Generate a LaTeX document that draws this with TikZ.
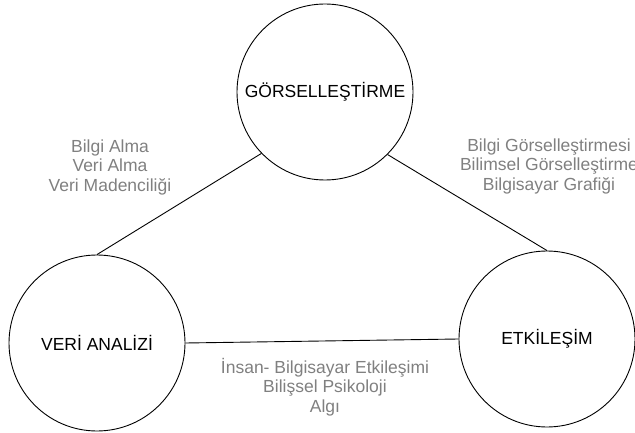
\documentclass[tikz,border=0pt]{standalone}
\usepackage{fontspec}
\setmainfont{Liberation Sans}
\definecolor{labelgray}{RGB}{128,128,128}

\begin{document}
\begin{tikzpicture}[x=1pt,y=-1pt,
  alan/.style={circle,draw,line width=0.9pt,minimum size=176pt,inner sep=0pt,font=\fontsize{17.5}{19.5}\selectfont},
  konu/.style={text=labelgray,align=center,font=\fontsize{17.5}{19.5}\selectfont}]
\useasboundingbox (0,0) rectangle (635,433);
\node[alan] (gor) at (325,92) {GÖRSELLEŞTİRME};
\node[alan] (veri) at (97,343) {VERİ ANALİZİ};
\node[alan] (etk) at (547,339) {ETKİLEŞİM};
\draw[line width=0.9pt] (gor.224) -- (veri.north)
  (gor.-45) -- (etk.north)
  (veri.east) -- (etk.west);
\node[konu] (solyazi) at (110,167) {Bilgi Alma\\Veri Alma\\Veri Madenciliği};
\node[konu] (sagyazi) at (549,166) {Bilgi Görselleştirmesi\\Bilimsel Görselleştirme\\Bilgisayar Grafiği};
\node[konu] (altyazi) at (325,387) {İnsan- Bilgisayar Etkileşimi\\Bilişsel Psikoloji\\Algı};
\end{tikzpicture}
\end{document}
